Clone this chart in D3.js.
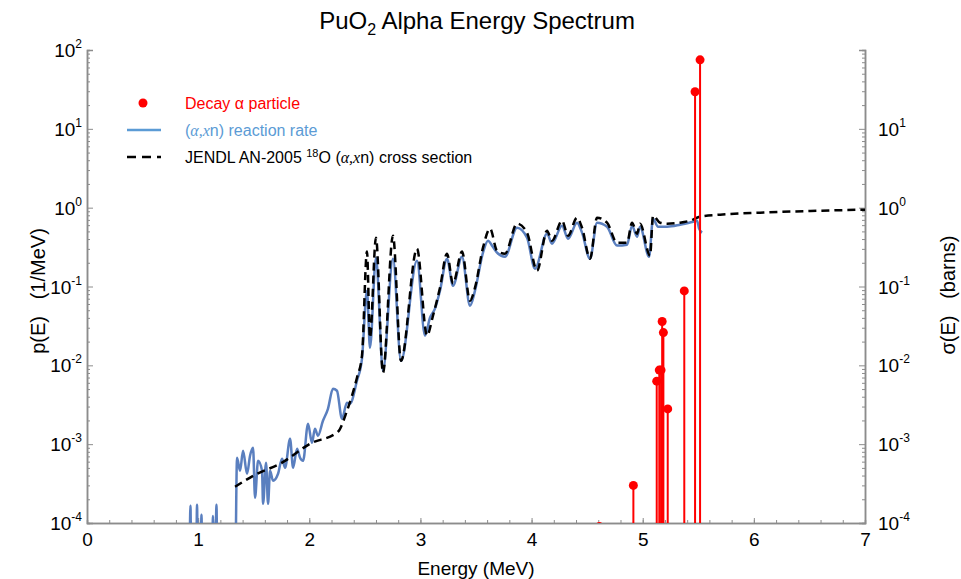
<!DOCTYPE html>
<html>
<head>
<meta charset="utf-8">
<script src="https://cdn.jsdelivr.net/npm/d3@7"></script>
<style>
  body { margin: 0; background: #fff; }
  text { font-family: "Liberation Sans", Arial, sans-serif; }
</style>
</head>
<body>
<div id="chart"></div>
<script>
// cross section (JENDL AN-2005, 18O(a,xn)), barns
var xsEnergy = [1.332, 1.530, 1.737, 2.006, 2.258, 2.339, 2.429, 2.474, 2.519, 2.546, 2.600, 2.663, 2.753, 2.825,
  2.969, 3.059, 3.113, 3.176, 3.239, 3.293, 3.374, 3.446, 3.491, 3.563, 3.626, 3.689, 3.761, 3.869, 3.959, 4.049,
  4.139, 4.184, 4.274, 4.328, 4.409, 4.454, 4.526, 4.589, 4.679, 4.769, 4.859, 4.904, 4.949, 4.976, 5.066, 5.093,
  5.156, 5.219, 5.336, 5.426, 5.516, 5.696, 6.055, 6.595, 7.0]
var xsValue = [2.88e-4, 4.21e-4, 5.64e-4, 1.01e-3, 1.44e-3, 2.65e-3, 6.96e-3, 1.32e-2, 0.277, 0.0224, 0.416, 8.05e-3, 0.441, 0.0114,
  0.302, 0.0238, 0.0426, 0.0966, 0.261, 0.109, 0.277, 0.066, 0.0966, 0.311, 0.542, 0.285, 0.261, 0.627, 0.482, 0.159,
  0.511, 0.381, 0.684, 0.441, 0.747, 0.557, 0.225, 0.747, 0.645, 0.360, 0.360, 0.645, 0.468, 0.627, 0.246, 0.791,
  0.645, 0.627, 0.645, 0.684, 0.769, 0.815, 0.864, 0.916, 0.943]

// (a,xn) reaction rate, 1/MeV
var rateEnergy = [0.920, 0.931, 0.940, 0.980, 0.990, 1.000, 1.020, 1.030, 1.040, 1.120, 1.134, 1.150, 1.165, 1.175,
  1.330, 1.350, 1.377, 1.404, 1.440, 1.467, 1.494, 1.512, 1.539, 1.575, 1.584, 1.611, 1.629, 1.647, 1.674, 1.719,
  1.755, 1.782, 1.827, 1.854, 1.890, 1.917, 1.944, 1.989, 2.024, 2.051, 2.078, 2.123, 2.168, 2.213, 2.249, 2.294,
  2.339, 2.366, 2.429, 2.474, 2.519, 2.546, 2.600, 2.663, 2.753, 2.825, 2.969, 3.041, 3.086, 3.131, 3.176, 3.239,
  3.293, 3.374, 3.446, 3.491, 3.563, 3.608, 3.644, 3.689, 3.761, 3.869, 3.959, 4.031, 4.139, 4.184, 4.274, 4.328,
  4.409, 4.454, 4.526, 4.589, 4.679, 4.769, 4.859, 4.904, 4.949, 4.976, 5.057, 5.093, 5.138, 5.219, 5.336, 5.453,
  5.489, 5.507, 5.534]
var rateValue = [1e-5, 1.65e-4, 1e-5, 1e-5, 1.70e-4, 1e-5, 1e-5, 1.27e-4, 1e-5, 1e-5, 1.23e-4, 1e-5, 1.70e-4, 1e-5,
  1e-5, 6.72e-4, 4.59e-4, 8.25e-4, 4.21e-4, 7.13e-4, 9.0e-4, 2.09e-4, 6.15e-4, 4.59e-4, 1.75e-4, 5.81e-4, 1.75e-4, 4.59e-4, 3.43e-4, 4.21e-4,
  6.53e-4, 5.02e-4, 1.17e-3, 5.02e-4, 8.74e-4, 6.72e-4, 6.15e-4, 1.82e-3, 1.04e-3, 1.57e-3, 1.28e-3, 1.98e-3, 2.81e-3, 5.05e-3, 4.76e-3, 2.10e-3,
  3.35e-3, 3.26e-3, 6.38e-3, 1.21e-2, 0.0885, 0.0167, 0.232, 8.54e-3, 0.225, 0.0114, 0.212, 0.0238, 0.0402, 0.0523, 0.0885, 0.225,
  0.102, 0.239, 0.057, 0.0885, 0.269, 0.381, 0.330, 0.269, 0.239, 0.557, 0.416, 0.168, 0.468, 0.349, 0.591, 0.404,
  0.645, 0.482, 0.225, 0.645, 0.574, 0.330, 0.339, 0.591, 0.428, 0.574, 0.239, 0.725, 0.574, 0.574, 0.608, 0.664,
  0.684, 0.542, 0.482]

// decay alpha lines, 1/MeV
var decayEnergy = [4.61, 4.916, 5.126, 5.149, 5.165, 5.175, 5.186, 5.225, 5.374, 5.471, 5.516]
var decayValue = [9e-5, 3.0e-4, 6.3e-3, 8.7e-3, 8.7e-3, 0.036, 0.026, 2.8e-3, 0.088, 29.5, 75]

var decades = [-4, -3, -2, -1, 0, 1, 2]
var rightDecades = [-4, -3, -2, -1, 0, 1]
var xTicks = [0, 1, 2, 3, 4, 5, 6, 7]

var width = 961, height = 579
var pLeft = 87, pRight = 865, pTop = 50, pBottom = 523

var svg = d3.select("#chart").append("svg")
  .attr("width", width).attr("height", height)

var x = d3.scaleLinear().domain([0, 7]).range([pLeft, pRight])
var y = d3.scaleLog().domain([1e-4, 100]).range([pBottom, pTop])

svg.append("clipPath").attr("id", "plot")
  .append("rect").attr("x", pLeft).attr("y", pTop - 10)
  .attr("width", pRight - pLeft).attr("height", pBottom - pTop + 10)

var axisColor = "#8c8c8c"

// minor ticks
var minor = []
for (var d = -4; d < 2; d++) for (var m = 2; m < 10; m++) minor.push(m * Math.pow(10, d))
var majorY = decades.map(function(e) { return Math.pow(10, e) })
var xMinor = d3.range(0, 7.01, 0.2).map(function(v) { return Math.round(v * 10) / 10 })

function styleAxis(g) {
  g.select(".domain").attr("stroke", axisColor).attr("stroke-width", 1.5)
  g.selectAll(".tick line").attr("stroke", axisColor)
}

svg.append("g").attr("transform", "translate(" + pLeft + ",0)")
  .call(d3.axisRight(y).tickValues(minor).tickSize(3).tickFormat("")).call(styleAxis)
svg.append("g").attr("transform", "translate(" + pLeft + ",0)")
  .call(d3.axisRight(y).tickValues(majorY).tickSize(6).tickFormat("")).call(styleAxis)
svg.append("g").attr("transform", "translate(" + pRight + ",0)")
  .call(d3.axisLeft(y).tickValues(minor).tickSize(3).tickFormat("")).call(styleAxis)
svg.append("g").attr("transform", "translate(" + pRight + ",0)")
  .call(d3.axisLeft(y).tickValues(majorY).tickSize(6).tickFormat("")).call(styleAxis)

svg.append("g").attr("transform", "translate(0," + pBottom + ")")
  .call(d3.axisTop(x).tickValues(xMinor).tickSize(3).tickFormat("")).call(styleAxis)
var xAxis = svg.append("g").attr("transform", "translate(0," + pBottom + ")")
  .call(d3.axisBottom(x).tickValues(xTicks).tickSizeInner(-5).tickSizeOuter(0).tickPadding(10).tickFormat(d3.format("d")))
  .call(styleAxis)
xAxis.selectAll("text").attr("font-size", 19).attr("fill", "#000")
  .style("font-family", "'Liberation Sans', Arial, sans-serif")

// y tick labels with exponents
function powLabel(g, e, xpos, anchorEnd) {
  var t = g.append("text").attr("x", xpos).attr("y", y(Math.pow(10, e)) + 7)
    .attr("font-size", 19).attr("fill", "#000")
    .attr("text-anchor", anchorEnd ? "end" : "start")
  t.append("tspan").text("10")
  t.append("tspan").attr("dy", -9).attr("font-size", 12).text(String(e))
}
var labels = svg.append("g")
decades.forEach(function(e) { powLabel(labels, e, 82, true) })
rightDecades.forEach(function(e) { powLabel(labels, e, 878, false) })

// data lines
var line = d3.line().curve(d3.curveMonotoneX)
  .x(function(d) { return x(d[0]) }).y(function(d) { return y(d[1]) })
var plot = svg.append("g").attr("clip-path", "url(#plot)")

plot.append("path")
  .datum(d3.zip(rateEnergy, rateValue))
  .attr("d", line)
  .attr("fill", "none").attr("stroke", "#5a7fbf").attr("stroke-width", 2.5)
  .attr("stroke-linejoin", "round")

plot.append("path")
  .datum(d3.zip(xsEnergy, xsValue))
  .attr("d", line)
  .attr("fill", "none").attr("stroke", "#000").attr("stroke-width", 2.5)
  .attr("stroke-dasharray", "8,5")

var decays = d3.zip(decayEnergy, decayValue)
plot.selectAll(".stem").data(decays).enter().append("line")
  .attr("x1", function(d) { return x(d[0]) }).attr("x2", function(d) { return x(d[0]) })
  .attr("y1", pBottom).attr("y2", function(d) { return y(d[1]) })
  .attr("stroke", "#ff0000").attr("stroke-width", 2)
plot.selectAll(".dot").data(decays).enter().append("circle")
  .attr("cx", function(d) { return x(d[0]) }).attr("cy", function(d) { return y(d[1]) })
  .attr("r", 4.5).attr("fill", "#ff0000")

// title and axis titles
var title = svg.append("text").attr("x", 477).attr("y", 29).attr("text-anchor", "middle")
  .attr("font-size", 24).attr("fill", "#000")
title.append("tspan").text("PuO")
title.append("tspan").attr("dy", 6).attr("font-size", 16).text("2")
title.append("tspan").attr("dy", -6).text(" Alpha Energy Spectrum")

svg.append("text").attr("x", 476).attr("y", 575).attr("text-anchor", "middle")
  .attr("font-size", 19).text("Energy (MeV)")
svg.append("text").attr("transform", "translate(45,291) rotate(-90)").attr("text-anchor", "middle")
  .attr("font-size", 20).attr("xml:space", "preserve").text("p(E)   (1/MeV)")
svg.append("text").attr("transform", "translate(955,295) rotate(-90)").attr("text-anchor", "middle")
  .attr("font-size", 20).attr("xml:space", "preserve").text("σ(E)   (barns)")

// legend
var lg = svg.append("g").attr("font-size", 16)
lg.append("circle").attr("cx", 143).attr("cy", 103).attr("r", 4.5).attr("fill", "#ff0000")
lg.append("text").attr("x", 185).attr("y", 109).attr("fill", "#ff0000").text("Decay α particle")
lg.append("line").attr("x1", 127).attr("x2", 161).attr("y1", 130).attr("y2", 130)
  .attr("stroke", "#5b9bd5").attr("stroke-width", 2.5)
var t2 = lg.append("text").attr("x", 185).attr("y", 136).attr("fill", "#5b9bd5")
t2.append("tspan").text("(")
t2.append("tspan").attr("font-style", "italic").style("font-family", "'Liberation Serif', serif").text("α,x")
t2.append("tspan").text("n) reaction rate")
lg.append("line").attr("x1", 127).attr("x2", 161).attr("y1", 157).attr("y2", 157)
  .attr("stroke", "#000").attr("stroke-width", 2.5).attr("stroke-dasharray", "9,6")
var t3 = lg.append("text").attr("x", 185).attr("y", 163).attr("fill", "#000")
t3.append("tspan").text("JENDL AN-2005 ")
t3.append("tspan").attr("dy", -6).attr("font-size", 11).text("18")
t3.append("tspan").attr("dy", 6).text("O (")
t3.append("tspan").attr("font-style", "italic").style("font-family", "'Liberation Serif', serif").text("α,x")
t3.append("tspan").text("n) cross section")
</script>
</body>
</html>
